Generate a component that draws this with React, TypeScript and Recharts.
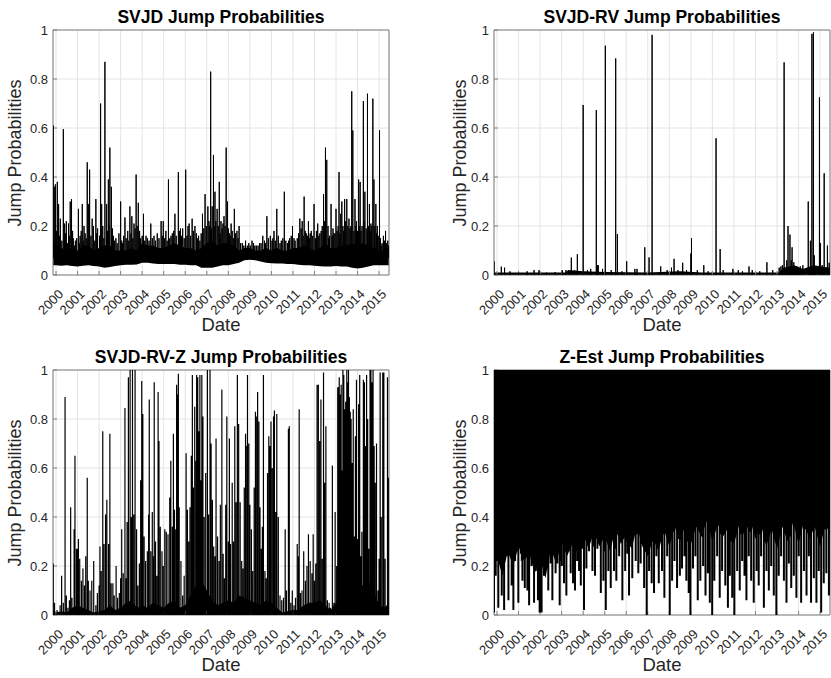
import React from 'react';
import { ComposedChart, Area, Line, XAxis, YAxis, CartesianGrid, ReferenceArea } from 'recharts';

// ---------- axes ----------
const YEAR_TICKS = [2000, 2001, 2002, 2003, 2004, 2005, 2006, 2007, 2008, 2009, 2010, 2011, 2012, 2013, 2014, 2015];
const PROB_TICKS = [0, 0.2, 0.4, 0.6, 0.8, 1];
const DATE_RANGE: [number, number] = [1999.86, 2015.46];

// ---------- SVJD ----------
// dense band: [date, low, high]
const SVJD_BAND: [number, number, number][] = [
  [1999.86, 0.04, 0.14], [2000, 0.04, 0.12], [2000.25, 0.038, 0.11], [2000.5, 0.04, 0.1], [2000.75, 0.037, 0.11],
  [2001, 0.035, 0.1], [2001.25, 0.038, 0.12], [2001.5, 0.04, 0.12], [2001.75, 0.037, 0.1], [2002, 0.035, 0.11],
  [2002.25, 0.03, 0.12], [2002.5, 0.033, 0.12], [2002.75, 0.037, 0.1], [2003, 0.04, 0.1], [2003.25, 0.042, 0.1],
  [2003.5, 0.042, 0.11], [2003.75, 0.043, 0.1], [2004, 0.05, 0.13], [2004.25, 0.05, 0.12], [2004.5, 0.047, 0.12],
  [2004.75, 0.045, 0.11], [2005, 0.045, 0.11], [2005.25, 0.045, 0.12], [2005.5, 0.045, 0.13], [2005.75, 0.042, 0.12],
  [2006, 0.042, 0.11], [2006.25, 0.04, 0.11], [2006.5, 0.04, 0.1], [2006.75, 0.03, 0.11], [2007, 0.03, 0.13],
  [2007.25, 0.03, 0.14], [2007.5, 0.035, 0.12], [2007.75, 0.04, 0.13], [2008, 0.04, 0.13], [2008.25, 0.045, 0.12],
  [2008.5, 0.05, 0.1], [2008.75, 0.06, 0.11], [2009, 0.062, 0.11], [2009.25, 0.06, 0.1], [2009.5, 0.055, 0.1],
  [2009.75, 0.05, 0.11], [2010, 0.048, 0.1], [2010.25, 0.047, 0.11], [2010.5, 0.047, 0.1], [2010.75, 0.045, 0.1],
  [2011, 0.045, 0.11], [2011.25, 0.042, 0.11], [2011.5, 0.04, 0.12], [2011.75, 0.04, 0.11], [2012, 0.038, 0.1],
  [2012.25, 0.036, 0.11], [2012.5, 0.035, 0.13], [2012.75, 0.035, 0.11], [2013, 0.037, 0.11], [2013.25, 0.035, 0.12],
  [2013.5, 0.035, 0.12], [2013.75, 0.03, 0.13], [2014, 0.027, 0.12], [2014.25, 0.03, 0.13], [2014.5, 0.035, 0.12],
  [2014.75, 0.04, 0.11], [2015, 0.04, 0.1], [2015.25, 0.04, 0.1], [2015.46, 0.04, 0.11],
];
const SVJD_SPIKE_BASE = 0.07;
const SVJD_SPIKES: [number, number][] = [
  [1999.87, 0.61], [1999.92, 0.36], [1999.97, 0.37], [2000.06, 0.38], [2000.12, 0.29], [2000.2, 0.23], [2000.34, 0.595],
  [2000.4, 0.21], [2000.48, 0.22], [2000.58, 0.21], [2000.66, 0.3], [2000.72, 0.31], [2000.8, 0.15], [2000.9, 0.14],
  [2001.04, 0.27], [2001.12, 0.16], [2001.22, 0.29], [2001.3, 0.2], [2001.45, 0.46], [2001.5, 0.29], [2001.56, 0.43],
  [2001.68, 0.23], [2001.74, 0.2], [2001.85, 0.31], [2001.93, 0.19], [2002.07, 0.7], [2002.12, 0.29], [2002.27, 0.87],
  [2002.35, 0.29], [2002.43, 0.39], [2002.5, 0.52], [2002.57, 0.36], [2002.66, 0.16], [2002.78, 0.15], [2003, 0.3],
  [2003.08, 0.13], [2003.2, 0.235], [2003.33, 0.18], [2003.43, 0.28], [2003.52, 0.24], [2003.62, 0.21], [2003.72, 0.41],
  [2003.82, 0.295], [2003.93, 0.15], [2004.06, 0.25], [2004.25, 0.15], [2004.4, 0.21], [2004.55, 0.16], [2004.7, 0.17],
  [2004.88, 0.22], [2004.98, 0.22], [2005.1, 0.18], [2005.22, 0.39], [2005.4, 0.17], [2005.52, 0.25], [2005.68, 0.42],
  [2005.78, 0.19], [2005.88, 0.19], [2006.02, 0.43], [2006.18, 0.21], [2006.32, 0.23], [2006.45, 0.2], [2006.62, 0.16],
  [2006.8, 0.25], [2006.92, 0.33], [2007.05, 0.28], [2007.18, 0.83], [2007.25, 0.28], [2007.31, 0.49], [2007.38, 0.34],
  [2007.48, 0.27], [2007.58, 0.38], [2007.66, 0.22], [2007.8, 0.24], [2007.9, 0.52], [2007.96, 0.3], [2008.05, 0.17],
  [2008.13, 0.21], [2008.28, 0.27], [2008.4, 0.18], [2008.5, 0.2], [2008.65, 0.13], [2008.8, 0.14], [2008.95, 0.13],
  [2009.1, 0.14], [2009.3, 0.12], [2009.45, 0.13], [2009.6, 0.16], [2009.79, 0.24], [2009.95, 0.16], [2010.12, 0.18],
  [2010.25, 0.27], [2010.4, 0.13], [2010.6, 0.34], [2010.75, 0.13], [2010.85, 0.15], [2010.98, 0.2], [2011.2, 0.15],
  [2011.32, 0.23], [2011.43, 0.22], [2011.52, 0.32], [2011.62, 0.17], [2011.72, 0.22], [2011.85, 0.18], [2011.98, 0.29],
  [2012.15, 0.21], [2012.25, 0.17], [2012.42, 0.33], [2012.51, 0.52], [2012.57, 0.47], [2012.7, 0.16], [2012.77, 0.29],
  [2012.9, 0.17], [2013, 0.27], [2013.14, 0.42], [2013.22, 0.25], [2013.27, 0.3], [2013.4, 0.31], [2013.5, 0.31],
  [2013.6, 0.23], [2013.73, 0.75], [2013.78, 0.59], [2013.88, 0.31], [2013.95, 0.22], [2014.05, 0.39], [2014.12, 0.38],
  [2014.27, 0.71], [2014.34, 0.34], [2014.46, 0.74], [2014.55, 0.29], [2014.62, 0.21], [2014.71, 0.72], [2014.76, 0.39],
  [2014.85, 0.29], [2014.92, 0.2], [2015.02, 0.59], [2015.1, 0.12], [2015.2, 0.16], [2015.3, 0.18], [2015.4, 0.14],
];
// the short grey "grass" just above the dense band
const SVJD_MINOR_SPIKES: [number, number][] = [
  [2000.02, 0.18], [2000.16, 0.16], [2000.27, 0.14], [2000.44, 0.17], [2000.53, 0.13], [2000.62, 0.16], [2000.77, 0.18],
  [2000.86, 0.12], [2000.96, 0.15], [2001.08, 0.13], [2001.17, 0.18], [2001.26, 0.14], [2001.35, 0.17], [2001.4, 0.15],
  [2001.62, 0.16], [2001.8, 0.14], [2001.89, 0.17], [2002.02, 0.16], [2002.17, 0.2], [2002.22, 0.15], [2002.39, 0.18],
  [2002.46, 0.2], [2002.62, 0.19], [2002.71, 0.14], [2002.84, 0.13], [2002.92, 0.17], [2003.05, 0.14], [2003.14, 0.16],
  [2003.26, 0.15], [2003.38, 0.14], [2003.48, 0.17], [2003.57, 0.15], [2003.67, 0.19], [2003.77, 0.2], [2003.88, 0.18],
  [2004.0, 0.16], [2004.12, 0.14], [2004.18, 0.16], [2004.32, 0.14], [2004.47, 0.15], [2004.62, 0.14], [2004.78, 0.15],
  [2004.93, 0.16], [2005.04, 0.15], [2005.16, 0.14], [2005.28, 0.15], [2005.34, 0.16], [2005.46, 0.18], [2005.58, 0.16],
  [2005.73, 0.18], [2005.83, 0.16], [2005.95, 0.15], [2006.08, 0.16], [2006.13, 0.2], [2006.25, 0.16], [2006.38, 0.18],
  [2006.52, 0.17], [2006.56, 0.15], [2006.68, 0.14], [2006.74, 0.17], [2006.86, 0.19], [2006.98, 0.2], [2007.1, 0.22],
  [2007.14, 0.2], [2007.21, 0.19], [2007.34, 0.2], [2007.42, 0.22], [2007.53, 0.2], [2007.62, 0.17], [2007.71, 0.19],
  [2007.75, 0.21], [2007.85, 0.2], [2008.0, 0.19], [2008.09, 0.16], [2008.18, 0.18], [2008.23, 0.15], [2008.34, 0.17],
  [2008.45, 0.15], [2008.57, 0.13], [2008.72, 0.12], [2008.88, 0.12], [2009.02, 0.12], [2009.17, 0.13], [2009.23, 0.12],
  [2009.38, 0.12], [2009.52, 0.13], [2009.68, 0.14], [2009.73, 0.13], [2009.86, 0.15], [2010.03, 0.14], [2010.07, 0.15],
  [2010.18, 0.14], [2010.32, 0.16], [2010.46, 0.14], [2010.53, 0.15], [2010.67, 0.14], [2010.8, 0.14], [2010.92, 0.16],
  [2011.05, 0.15], [2011.1, 0.14], [2011.26, 0.17], [2011.38, 0.19], [2011.47, 0.16], [2011.57, 0.18], [2011.67, 0.16],
  [2011.77, 0.15], [2011.8, 0.17], [2011.92, 0.16], [2012.04, 0.15], [2012.09, 0.18], [2012.2, 0.16], [2012.31, 0.18],
  [2012.36, 0.2], [2012.46, 0.22], [2012.63, 0.2], [2012.66, 0.15], [2012.82, 0.16], [2012.86, 0.19], [2012.95, 0.17],
  [2013.05, 0.18], [2013.1, 0.2], [2013.18, 0.17], [2013.32, 0.2], [2013.36, 0.18], [2013.45, 0.22], [2013.55, 0.2],
  [2013.65, 0.19], [2013.69, 0.2], [2013.83, 0.18], [2013.92, 0.2], [2014.0, 0.18], [2014.08, 0.2], [2014.16, 0.18],
  [2014.21, 0.2], [2014.3, 0.22], [2014.4, 0.19], [2014.5, 0.2], [2014.59, 0.18], [2014.66, 0.2], [2014.8, 0.2],
  [2014.88, 0.17], [2014.96, 0.16], [2015.06, 0.15], [2015.14, 0.13], [2015.25, 0.14], [2015.35, 0.13], [2015.44, 0.12],
];

// ---------- SVJD-RV ----------
const RV_BAND: [number, number][] = [
  [1999.86, 0.01], [2003.2, 0.01], [2003.3, 0.02], [2004, 0.015], [2005, 0.012], [2007, 0.01], [2008.5, 0.015],
  [2009.5, 0.01], [2013.1, 0.01], [2013.3, 0.03], [2013.8, 0.04], [2014.2, 0.025], [2014.7, 0.04], [2015.46, 0.03],
];
const RV_SPIKES: [number, number][] = [
  [1999.86, 0.055], [2000.2, 0.034], [2000.35, 0.03], [2000.6, 0.015], [2001, 0.01], [2001.4, 0.015], [2001.72, 0.02],
  [2001.95, 0.02], [2002.3, 0.01], [2002.7, 0.012], [2003.03, 0.02], [2003.2, 0.02], [2003.45, 0.071], [2003.6, 0.02],
  [2003.73, 0.085], [2004, 0.694], [2004.2, 0.02], [2004.35, 0.025], [2004.61, 0.673], [2004.66, 0.04], [2004.7, 0.04],
  [2004.9, 0.025], [2005.03, 0.936], [2005.3, 0.02], [2005.51, 0.884], [2005.59, 0.167], [2005.8, 0.015], [2006.02, 0.056],
  [2006.4, 0.025], [2006.5, 0.025], [2006.86, 0.113], [2007.06, 0.072], [2007.2, 0.98], [2007.6, 0.035], [2007.9, 0.02],
  [2008.1, 0.03], [2008.22, 0.066], [2008.4, 0.02], [2008.62, 0.05], [2008.8, 0.02], [2009, 0.088], [2009.03, 0.15],
  [2009.3, 0.02], [2009.6, 0.04], [2009.8, 0.015], [2010.17, 0.558], [2010.36, 0.106], [2010.5, 0.02], [2010.95, 0.025],
  [2011.2, 0.02], [2011.4, 0.015], [2011.7, 0.035], [2011.85, 0.02], [2012.2, 0.015], [2012.53, 0.052], [2012.8, 0.02],
  [2013.1, 0.03], [2013.18, 0.035], [2013.25, 0.04], [2013.33, 0.868], [2013.45, 0.06], [2013.51, 0.2], [2013.6, 0.165],
  [2013.66, 0.06], [2013.7, 0.113], [2013.78, 0.052], [2013.85, 0.035], [2013.93, 0.035], [2014, 0.03], [2014.08, 0.035],
  [2014.2, 0.04], [2014.45, 0.3], [2014.55, 0.14], [2014.62, 0.984], [2014.69, 0.99], [2014.73, 0.08], [2014.8, 0.035],
  [2014.97, 0.725], [2015.02, 0.13], [2015.1, 0.04], [2015.19, 0.415], [2015.34, 0.12], [2015.42, 0.05],
];

// ---------- SVJD-RV-Z ----------
const RVZ_BAND: [number, number][] = [
  [1999.86, 0.02], [2000, 0.01], [2000.25, 0.015], [2000.5, 0.01], [2000.75, 0.03], [2001, 0.04], [2001.25, 0.03],
  [2001.5, 0.02], [2001.75, 0.01], [2002, 0.015], [2002.25, 0.02], [2002.5, 0.04], [2002.75, 0.02], [2003, 0.03],
  [2003.25, 0.05], [2003.5, 0.06], [2003.75, 0.03], [2004, 0.04], [2004.25, 0.03], [2004.5, 0.05], [2004.75, 0.04],
  [2005, 0.03], [2005.25, 0.05], [2005.5, 0.06], [2005.75, 0.03], [2006, 0.04], [2006.25, 0.08], [2006.5, 0.12],
  [2006.75, 0.14], [2007, 0.1], [2007.25, 0.06], [2007.5, 0.04], [2007.75, 0.05], [2008, 0.06], [2008.25, 0.05],
  [2008.5, 0.08], [2008.75, 0.07], [2009, 0.06], [2009.25, 0.05], [2009.5, 0.04], [2009.75, 0.06], [2010, 0.05],
  [2010.25, 0.03], [2010.5, 0.01], [2010.75, 0.015], [2011, 0.02], [2011.25, 0.02], [2011.5, 0.04], [2011.75, 0.05],
  [2012, 0.05], [2012.25, 0.06], [2012.5, 0.04], [2012.75, 0.02], [2013, 0.05], [2013.25, 0.1], [2013.5, 0.12],
  [2013.75, 0.1], [2014, 0.13], [2014.25, 0.12], [2014.5, 0.14], [2014.75, 0.1], [2015, 0.04], [2015.25, 0.03],
  [2015.46, 0.05],
];
const RVZ_SPIKES: [number, number][] = [
  [1999.87, 0.21], [1999.93, 0.05], [2000.05, 0.02], [2000.19, 0.04], [2000.26, 0.16], [2000.34, 0.05], [2000.42, 0.89],
  [2000.48, 0.08], [2000.55, 0.03], [2000.62, 0.06], [2000.68, 0.44], [2000.74, 0.07], [2000.84, 0.35], [2000.88, 0.65],
  [2000.95, 0.27], [2001, 0.27], [2001.04, 0.31], [2001.1, 0.23], [2001.18, 0.14], [2001.25, 0.19], [2001.32, 0.12],
  [2001.38, 0.24], [2001.45, 0.56], [2001.5, 0.14], [2001.58, 0.1], [2001.66, 0.14], [2001.75, 0.22], [2001.85, 0.04],
  [2001.92, 0.09], [2002, 0.12], [2002.04, 0.28], [2002.1, 0.18], [2002.17, 0.75], [2002.23, 0.29], [2002.3, 0.41],
  [2002.36, 0.47], [2002.44, 0.29], [2002.5, 0.74], [2002.56, 0.13], [2002.64, 0.13], [2002.7, 0.08], [2002.79, 0.2],
  [2002.86, 0.07], [2002.94, 0.09], [2003, 0.15], [2003.05, 0.35], [2003.12, 0.17], [2003.2, 0.845], [2003.26, 0.15],
  [2003.3, 0.38], [2003.36, 0.97], [2003.44, 1], [2003.5, 0.4], [2003.55, 1], [2003.61, 0.41], [2003.67, 1],
  [2003.74, 0.35], [2003.8, 0.12], [2003.87, 0.21], [2003.93, 0.55], [2003.98, 0.955], [2004.03, 0.82], [2004.09, 0.32],
  [2004.16, 0.22], [2004.24, 0.26], [2004.3, 0.41], [2004.33, 0.88], [2004.4, 0.26], [2004.47, 0.42], [2004.53, 0.24],
  [2004.56, 0.95], [2004.62, 0.3], [2004.68, 0.16], [2004.74, 0.91], [2004.78, 0.71], [2004.84, 0.36], [2004.92, 0.26],
  [2004.98, 0.2], [2005.05, 0.35], [2005.12, 0.34], [2005.2, 0.33], [2005.28, 0.48], [2005.33, 0.63], [2005.4, 0.36],
  [2005.45, 0.74], [2005.5, 0.43], [2005.56, 0.35], [2005.6, 0.94], [2005.64, 0.9], [2005.68, 0.985], [2005.72, 0.44],
  [2005.8, 0.22], [2005.88, 0.08], [2005.95, 0.16], [2006.04, 0.66], [2006.1, 0.43], [2006.16, 0.3], [2006.22, 0.44],
  [2006.28, 0.65], [2006.33, 0.98], [2006.38, 0.52], [2006.44, 0.85], [2006.5, 0.63], [2006.53, 0.98], [2006.58, 0.97],
  [2006.63, 0.75], [2006.68, 0.98], [2006.72, 0.55], [2006.77, 0.98], [2006.82, 0.81], [2006.88, 0.4], [2006.95, 0.58],
  [2007.03, 1], [2007.08, 0.41], [2007.15, 1], [2007.2, 0.7], [2007.26, 0.47], [2007.32, 0.28], [2007.38, 0.24],
  [2007.43, 0.72], [2007.5, 0.32], [2007.57, 0.22], [2007.63, 0.45], [2007.7, 0.92], [2007.76, 0.25], [2007.82, 0.15],
  [2007.88, 0.45], [2007.93, 0.81], [2008, 0.3], [2008.05, 0.72], [2008.1, 0.29], [2008.18, 0.54], [2008.24, 0.3],
  [2008.3, 0.77], [2008.36, 0.46], [2008.42, 0.98], [2008.48, 0.78], [2008.55, 0.46], [2008.62, 0.22], [2008.68, 0.19],
  [2008.74, 0.52], [2008.8, 0.74], [2008.86, 0.69], [2008.89, 0.98], [2008.95, 0.7], [2009, 0.45], [2009.07, 0.35],
  [2009.13, 0.18], [2009.2, 0.52], [2009.26, 0.83], [2009.32, 0.81], [2009.36, 0.91], [2009.42, 0.79], [2009.47, 0.44],
  [2009.53, 0.27], [2009.58, 0.36], [2009.63, 0.98], [2009.7, 0.18], [2009.76, 0.15], [2009.82, 0.58], [2009.88, 0.73],
  [2009.93, 0.69], [2009.98, 0.79], [2010.04, 0.6], [2010.1, 0.81], [2010.14, 0.835], [2010.2, 0.42], [2010.25, 0.82],
  [2010.32, 0.4], [2010.4, 0.08], [2010.48, 0.06], [2010.56, 0.07], [2010.64, 0.35], [2010.7, 0.1], [2010.79, 0.76],
  [2010.83, 0.77], [2010.9, 0.05], [2010.97, 0.1], [2011.05, 0.04], [2011.12, 0.07], [2011.2, 0.29], [2011.26, 0.24],
  [2011.29, 0.84], [2011.35, 0.09], [2011.42, 0.1], [2011.5, 0.26], [2011.58, 0.14], [2011.65, 0.2], [2011.72, 0.33],
  [2011.8, 0.22], [2011.88, 0.17], [2011.94, 0.33], [2012, 0.14], [2012.06, 0.21], [2012.12, 0.94], [2012.18, 0.94],
  [2012.24, 0.71], [2012.3, 0.88], [2012.36, 0.23], [2012.42, 0.99], [2012.47, 0.54], [2012.53, 0.77], [2012.6, 0.06],
  [2012.68, 0.05], [2012.74, 0.03], [2012.83, 0.61], [2012.9, 0.05], [2012.96, 0.42], [2013.03, 0.2], [2013.08, 0.93],
  [2013.11, 0.93], [2013.15, 0.97], [2013.2, 0.9], [2013.24, 0.94], [2013.28, 0.59], [2013.32, 1], [2013.36, 0.98],
  [2013.41, 0.84], [2013.45, 0.87], [2013.5, 1], [2013.54, 0.95], [2013.58, 1], [2013.62, 0.89], [2013.66, 0.83],
  [2013.7, 0.8], [2013.75, 0.62], [2013.8, 0.84], [2013.85, 0.32], [2013.9, 0.73], [2013.95, 0.96], [2014, 0.31],
  [2014.05, 0.86], [2014.1, 0.98], [2014.15, 0.24], [2014.2, 0.34], [2014.27, 0.96], [2014.32, 0.95], [2014.37, 0.69],
  [2014.42, 0.98], [2014.47, 0.8], [2014.52, 0.27], [2014.58, 1], [2014.62, 1], [2014.67, 0.95], [2014.72, 1],
  [2014.77, 0.69], [2014.82, 0.54], [2014.88, 0.7], [2014.95, 0.1], [2015, 0.23], [2015.05, 0.99], [2015.1, 0.4],
  [2015.17, 0.99], [2015.22, 0.99], [2015.28, 0.23], [2015.33, 0.03], [2015.39, 0.97], [2015.43, 0.56],
];

// ---------- Z-Est ----------
// lower edge of the solid black mass (mass reaches 1)
const Z_BAND: [number, number][] = [
  [1999.86, 0.18], [2000, 0.24], [2000.25, 0.16], [2000.5, 0.26], [2000.75, 0.2], [2001, 0.28], [2001.25, 0.22],
  [2001.5, 0.25], [2001.75, 0.17], [2002, 0.23], [2002.25, 0.15], [2002.5, 0.27], [2002.75, 0.21], [2003, 0.3],
  [2003.25, 0.24], [2003.5, 0.29], [2003.75, 0.25], [2004, 0.33], [2004.25, 0.27], [2004.5, 0.34], [2004.75, 0.28],
  [2005, 0.32], [2005.25, 0.26], [2005.5, 0.35], [2005.75, 0.29], [2006, 0.33], [2006.25, 0.27], [2006.5, 0.36],
  [2006.75, 0.28], [2007, 0.24], [2007.25, 0.31], [2007.5, 0.26], [2007.75, 0.35], [2008, 0.28], [2008.25, 0.36],
  [2008.5, 0.3], [2008.75, 0.37], [2009, 0.29], [2009.25, 0.36], [2009.5, 0.32], [2009.75, 0.39], [2010, 0.3],
  [2010.25, 0.37], [2010.5, 0.32], [2010.75, 0.36], [2011, 0.29], [2011.25, 0.37], [2011.5, 0.32], [2011.75, 0.39],
  [2012, 0.31], [2012.25, 0.37], [2012.5, 0.28], [2012.75, 0.35], [2013, 0.27], [2013.25, 0.36], [2013.5, 0.3],
  [2013.75, 0.38], [2014, 0.29], [2014.25, 0.38], [2014.5, 0.31], [2014.75, 0.36], [2015, 0.28], [2015.25, 0.37],
  [2015.46, 0.33],
];
const Z_SPIKE_BASE = 1;
// deep dips of the line
const Z_SPIKES: [number, number][] = [
  [1999.86, 0.01], [1999.94, 0.16], [2000.06, 0.03], [2000.22, 0.08], [2000.33, 0.02], [2000.43, 0.31], [2000.53, 0.06],
  [2000.68, 0.12], [2000.76, 0.02], [2000.84, 0.22], [2000.99, 0.05], [2001.11, 0.25], [2001.18, 0.14], [2001.29, 0.11],
  [2001.41, 0.1], [2001.49, 0.04], [2001.6, 0.2], [2001.72, 0.05], [2001.8, 0.18], [2001.9, 0.06], [2001.98, 0.01],
  [2002.07, 0.01], [2002.18, 0.16], [2002.29, 0.19], [2002.38, 0.1], [2002.49, 0.21], [2002.57, 0.06], [2002.72, 0.17],
  [2002.8, 0.21], [2002.91, 0.04], [2003.01, 0.2], [2003.11, 0.13], [2003.22, 0.08], [2003.34, 0.26], [2003.42, 0.17],
  [2003.53, 0.13], [2003.62, 0.1], [2003.72, 0.22], [2003.81, 0.18], [2003.89, 0.12], [2004.04, 0.02], [2004.15, 0.19],
  [2004.27, 0.26], [2004.43, 0.18], [2004.55, 0.16], [2004.66, 0.27], [2004.82, 0.09], [2004.94, 0.14], [2005.05, 0.02],
  [2005.17, 0.18], [2005.28, 0.11], [2005.43, 0.18], [2005.54, 0.14], [2005.67, 0.24], [2005.82, 0.06], [2005.95, 0.18],
  [2006.05, 0.25], [2006.13, 0.08], [2006.28, 0.15], [2006.44, 0.22], [2006.56, 0.17], [2006.67, 0.21], [2006.83, 0.11],
  [2006.95, 0], [2007.06, 0.18], [2007.18, 0.13], [2007.29, 0.09], [2007.4, 0.24], [2007.51, 0.13], [2007.66, 0.18],
  [2007.77, 0.07], [2007.9, 0.24], [2008.02, 0], [2008.13, 0.14], [2008.24, 0.22], [2008.36, 0.11], [2008.49, 0.16],
  [2008.59, 0.19], [2008.7, 0.24], [2008.79, 0.14], [2008.9, 0.09], [2008.98, 0], [2009.1, 0.19], [2009.21, 0.24],
  [2009.32, 0.06], [2009.44, 0.14], [2009.57, 0.2], [2009.68, 0.08], [2009.79, 0.17], [2009.88, 0.05], [2009.99, 0],
  [2010.09, 0.14], [2010.22, 0.24], [2010.34, 0.07], [2010.45, 0.18], [2010.6, 0.12], [2010.72, 0.03], [2010.81, 0.16],
  [2010.92, 0.07], [2011.02, 0], [2011.15, 0.18], [2011.27, 0.1], [2011.38, 0.22], [2011.49, 0.16], [2011.58, 0.06],
  [2011.69, 0.24], [2011.8, 0.14], [2011.92, 0.05], [2012.05, 0.18], [2012.15, 0.12], [2012.26, 0.24], [2012.39, 0.03],
  [2012.51, 0.18], [2012.62, 0.1], [2012.73, 0.2], [2012.85, 0.08], [2012.97, 0], [2013.08, 0.16], [2013.19, 0.24],
  [2013.32, 0.14], [2013.44, 0.05], [2013.55, 0.21], [2013.66, 0.11], [2013.78, 0.16], [2013.9, 0.07], [2014.01, 0.24],
  [2014.12, 0.05], [2014.25, 0.18], [2014.37, 0.08], [2014.48, 0.24], [2014.58, 0.05], [2014.71, 0.15], [2014.83, 0.05],
  [2014.94, 0.18], [2015.05, 0.01], [2015.17, 0.13], [2015.29, 0.17], [2015.41, 0.08],
];
// shallower dips between the deep ones
const Z_MID_SPIKES: [number, number][] = [
  [1999.9, 0.3], [2000.0, 0.22], [2000.14, 0.35], [2000.28, 0.27], [2000.38, 0.4], [2000.48, 0.24], [2000.6, 0.33],
  [2000.72, 0.2], [2000.8, 0.37], [2000.92, 0.26], [2001.05, 0.34], [2001.15, 0.22], [2001.24, 0.3], [2001.35, 0.38],
  [2001.45, 0.25], [2001.55, 0.34], [2001.66, 0.21], [2001.76, 0.36], [2001.85, 0.28], [2001.94, 0.2], [2002.02, 0.32],
  [2002.12, 0.26], [2002.24, 0.38], [2002.34, 0.23], [2002.44, 0.33], [2002.53, 0.27], [2002.65, 0.4], [2002.76, 0.25],
  [2002.86, 0.35], [2002.96, 0.22], [2003.06, 0.37], [2003.16, 0.3], [2003.28, 0.41], [2003.38, 0.28], [2003.48, 0.36],
  [2003.58, 0.24], [2003.67, 0.38], [2003.76, 0.31], [2003.85, 0.4], [2003.96, 0.27], [2004.1, 0.36], [2004.21, 0.3],
  [2004.35, 0.42], [2004.49, 0.28], [2004.6, 0.38], [2004.74, 0.32], [2004.88, 0.43], [2005.0, 0.26], [2005.11, 0.37],
  [2005.22, 0.3], [2005.36, 0.41], [2005.48, 0.27], [2005.6, 0.39], [2005.75, 0.33], [2005.88, 0.42], [2006.0, 0.3],
  [2006.09, 0.37], [2006.2, 0.28], [2006.36, 0.4], [2006.5, 0.33], [2006.62, 0.44], [2006.75, 0.29], [2006.89, 0.36],
  [2007.0, 0.25], [2007.12, 0.38], [2007.24, 0.3], [2007.35, 0.42], [2007.46, 0.28], [2007.58, 0.38], [2007.72, 0.33],
  [2007.84, 0.43], [2007.96, 0.3], [2008.07, 0.4], [2008.19, 0.34], [2008.3, 0.45], [2008.42, 0.31], [2008.54, 0.4],
  [2008.65, 0.35], [2008.75, 0.46], [2008.85, 0.3], [2008.94, 0.38], [2009.04, 0.33], [2009.16, 0.45], [2009.27, 0.36],
  [2009.38, 0.47], [2009.5, 0.32], [2009.62, 0.42], [2009.74, 0.38], [2009.84, 0.5], [2009.94, 0.34], [2010.04, 0.44],
  [2010.16, 0.36], [2010.28, 0.47], [2010.4, 0.33], [2010.52, 0.42], [2010.66, 0.37], [2010.76, 0.45], [2010.86, 0.3],
  [2010.97, 0.4], [2011.08, 0.35], [2011.21, 0.46], [2011.32, 0.33], [2011.44, 0.43], [2011.54, 0.38], [2011.64, 0.48],
  [2011.74, 0.34], [2011.86, 0.44], [2011.98, 0.37], [2012.1, 0.45], [2012.2, 0.33], [2012.32, 0.42], [2012.45, 0.3],
  [2012.56, 0.4], [2012.68, 0.34], [2012.79, 0.44], [2012.91, 0.31], [2013.02, 0.39], [2013.14, 0.33], [2013.26, 0.45],
  [2013.38, 0.35], [2013.5, 0.42], [2013.6, 0.32], [2013.72, 0.44], [2013.84, 0.36], [2013.96, 0.46], [2014.06, 0.33],
  [2014.18, 0.42], [2014.31, 0.35], [2014.42, 0.46], [2014.53, 0.33], [2014.64, 0.44], [2014.77, 0.36], [2014.88, 0.45],
  [2015.0, 0.32], [2015.11, 0.4], [2015.23, 0.35], [2015.35, 0.44], [2015.44, 0.38],
];

// ---------- layout / style ----------
const FONT = '"Liberation Sans", Arial, Helvetica, sans-serif';
const CHART_W = 415;
const CHART_H = 340;
const MARGIN = { top: 30, right: 26, bottom: 0, left: 0 };
const Y_AXIS_W = 53;
const X_AXIS_H = 65;
const AXIS_GREY = '#808080';
const TEXT_GREY = '#262626';
const TICK_FONT = 13;

const XTick = (props: any) => {
  const { x, y, payload } = props;
  const tx = x + 8;
  const ty = y + 20;
  return (
    <g>
      <line x1={x} x2={x} y1={y} y2={y - 4} stroke={AXIS_GREY} strokeWidth={1} />
      <text
        x={tx}
        y={ty}
        transform={`rotate(-45 ${tx} ${ty})`}
        textAnchor="end"
        fontSize={TICK_FONT}
        fontFamily={FONT}
        fill={TEXT_GREY}
      >
        {payload.value}
      </text>
    </g>
  );
};

const YTick = (props: any) => {
  const { x, y, payload } = props;
  return (
    <g>
      <line x1={x} x2={x + 4} y1={y} y2={y} stroke={AXIS_GREY} strokeWidth={1} />
      <text x={x - 5} y={y} dy="0.35em" textAnchor="end" fontSize={TICK_FONT} fontFamily={FONT} fill={TEXT_GREY}>
        {String(payload.value)}
      </text>
    </g>
  );
};

type PanelProps = {
  left: number;
  top: number;
  title: string;
  band: { date: number; band: [number, number] }[];
  spikes: [number, number][];
  spikeBase: number;
  spikeWidth: number;
  yLabelX: number;
};

function Panel({ left, top, title, band, spikes, spikeBase, spikeWidth, yLabelX }: PanelProps) {
  const stems = [...spikes]
    .sort((a, b) => a[0] - b[0])
    .flatMap(([date, v]) => [
      { date, p: spikeBase },
      { date, p: v },
      { date, p: spikeBase },
    ]);
  const plotCx = Y_AXIS_W + (CHART_W - Y_AXIS_W - MARGIN.right) / 2;
  const plotCy = MARGIN.top + (CHART_H - MARGIN.top - X_AXIS_H) / 2;
  return (
    <div style={{ position: 'absolute', left, top, width: CHART_W, height: CHART_H }}>
      <div style={{ position: 'absolute', left: 0, top: 0 }}>
        <ComposedChart width={CHART_W} height={CHART_H} data={band} margin={MARGIN}>
          <CartesianGrid stroke="#e4e4e4" strokeWidth={1} />
          <XAxis
            type="number"
            dataKey="date"
            domain={DATE_RANGE}
            allowDataOverflow
            ticks={YEAR_TICKS}
            interval={0}
            height={X_AXIS_H}
            tickSize={0}
            tickMargin={0}
            axisLine={false}
            tickLine={false}
            tick={<XTick />}
          />
          <YAxis
            type="number"
            domain={[0, 1]}
            allowDataOverflow
            ticks={PROB_TICKS}
            interval={0}
            width={Y_AXIS_W}
            tickSize={0}
            tickMargin={0}
            axisLine={false}
            tickLine={false}
            tick={<YTick />}
          />
          <Area
            type="linear"
            dataKey="band"
            stroke="none"
            fill="#000"
            fillOpacity={1}
            dot={false}
            activeDot={false}
            isAnimationActive={false}
          />
        </ComposedChart>
      </div>
      <div style={{ position: 'absolute', left: 0, top: 0 }}>
        <ComposedChart width={CHART_W} height={CHART_H} data={stems} margin={MARGIN}>
          <XAxis
            type="number"
            dataKey="date"
            domain={DATE_RANGE}
            allowDataOverflow
            ticks={YEAR_TICKS}
            height={X_AXIS_H}
            axisLine={false}
            tickLine={false}
            tick={false}
          />
          <YAxis
            type="number"
            domain={[0, 1]}
            allowDataOverflow
            ticks={PROB_TICKS}
            width={Y_AXIS_W}
            axisLine={false}
            tickLine={false}
            tick={false}
          />
          <Line
            type="linear"
            dataKey="p"
            stroke="#000"
            strokeWidth={spikeWidth}
            dot={false}
            activeDot={false}
            isAnimationActive={false}
          />
          <ReferenceArea
            x1={DATE_RANGE[0]}
            x2={DATE_RANGE[1]}
            y1={0}
            y2={1}
            fill="none"
            fillOpacity={0}
            stroke={AXIS_GREY}
            strokeWidth={1}
            ifOverflow="visible"
          />
        </ComposedChart>
      </div>
      <div
        style={{
          position: 'absolute',
          left: plotCx - 200,
          top: 7,
          width: 400,
          textAlign: 'center',
          fontFamily: FONT,
          fontWeight: 'bold',
          fontSize: 17.5,
          lineHeight: '20px',
          color: '#000',
          whiteSpace: 'nowrap',
        }}
      >
        {title}
      </div>
      <div
        style={{
          position: 'absolute',
          left: yLabelX - 100,
          top: plotCy - 11,
          width: 200,
          height: 22,
          lineHeight: '22px',
          textAlign: 'center',
          fontFamily: FONT,
          fontSize: 18,
          color: TEXT_GREY,
          transform: 'rotate(-90deg)',
          whiteSpace: 'nowrap',
        }}
      >
        Jump Probabilities
      </div>
      <div
        style={{
          position: 'absolute',
          left: plotCx - 60,
          top: 314,
          width: 120,
          textAlign: 'center',
          fontFamily: FONT,
          fontSize: 18.5,
          lineHeight: '22px',
          color: TEXT_GREY,
        }}
      >
        Date
      </div>
    </div>
  );
}

export default function App() {
  const svjdBand = SVJD_BAND.map(([date, lo, hi]) => ({ date, band: [lo, hi] as [number, number] }));
  const rvBand = RV_BAND.map(([date, hi]) => ({ date, band: [0, hi] as [number, number] }));
  const rvzBand = RVZ_BAND.map(([date, hi]) => ({ date, band: [0, hi] as [number, number] }));
  const zBand = Z_BAND.map(([date, lo]) => ({ date, band: [lo, 1] as [number, number] }));
  const svjdSpikes = [...SVJD_SPIKES, ...SVJD_MINOR_SPIKES];
  const zSpikes = [...Z_SPIKES, ...Z_MID_SPIKES];
  return (
    <div
      style={{
        position: 'absolute',
        left: 0,
        top: 0,
        width: 831,
        height: 678,
        overflow: 'hidden',
        background: '#fff',
      }}
    >
      <Panel left={0} top={0} title="SVJD Jump Probabilities" band={svjdBand} spikes={svjdSpikes} spikeBase={SVJD_SPIKE_BASE} spikeWidth={1} yLabelX={15} />
      <Panel left={441} top={0} title="SVJD-RV Jump Probabilities" band={rvBand} spikes={RV_SPIKES} spikeBase={0} spikeWidth={1} yLabelX={19} />
      <Panel left={0} top={340} title="SVJD-RV-Z Jump Probabilities" band={rvzBand} spikes={RVZ_SPIKES} spikeBase={0} spikeWidth={1.2} yLabelX={15} />
      <Panel left={441} top={340} title="Z-Est Jump Probabilities" band={zBand} spikes={zSpikes} spikeBase={Z_SPIKE_BASE} spikeWidth={2} yLabelX={19} />
    </div>
  );
}
